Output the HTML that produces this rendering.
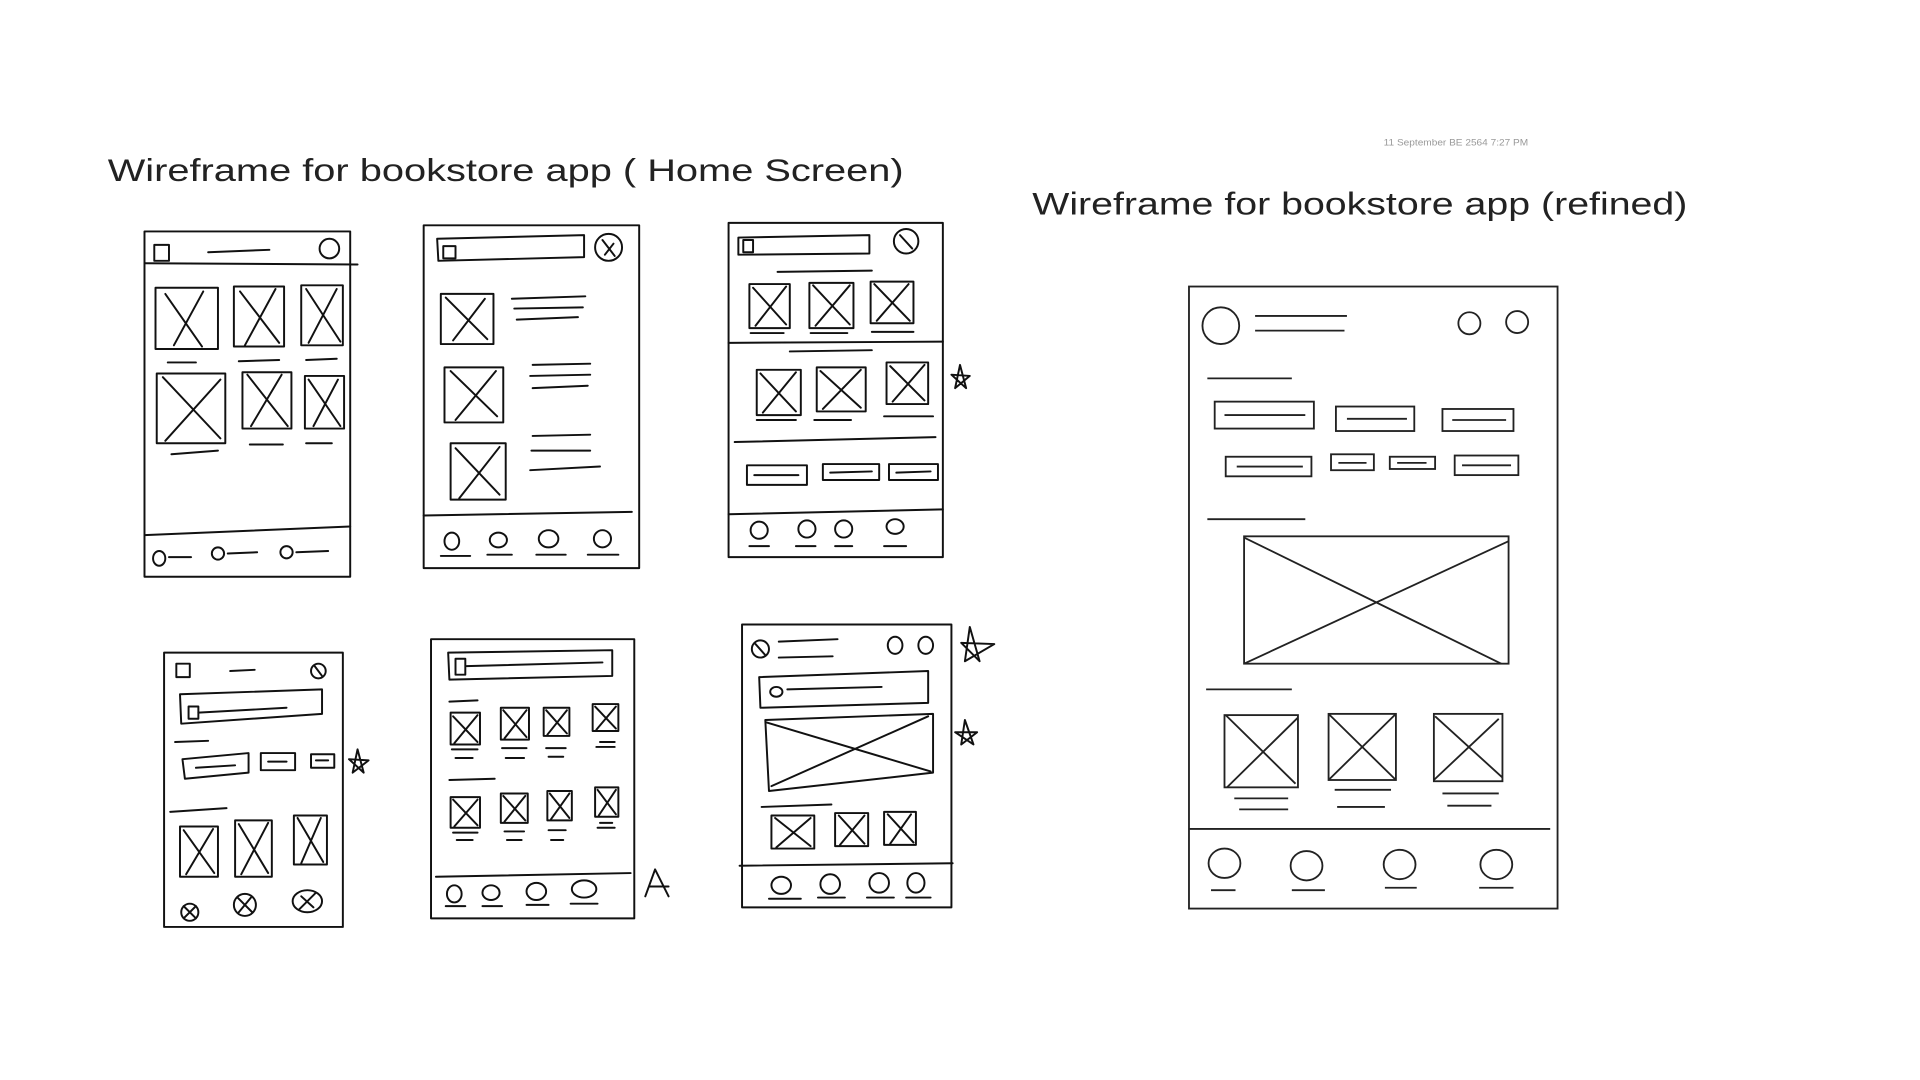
<!DOCTYPE html>
<html><head><meta charset="utf-8"><style>
html,body{margin:0;padding:0;background:#fff;width:1920px;height:1080px;overflow:hidden}
svg{display:block}
</style></head><body>
<svg width="1920" height="1080" viewBox="0 0 1568 882" preserveAspectRatio="none" xmlns="http://www.w3.org/2000/svg">
<g font-family="Liberation Sans, sans-serif" fill="#222">
<text x="88" y="148" font-size="26" textLength="650" lengthAdjust="spacingAndGlyphs">Wireframe  for  bookstore  app ( Home Screen)</text>
<text x="843" y="175" font-size="26" textLength="535" lengthAdjust="spacingAndGlyphs">Wireframe  for  bookstore  app  (refined)</text>
<text x="1130" y="119" font-size="7.5" fill="#999" textLength="118" lengthAdjust="spacingAndGlyphs">11 September BE 2564 7:27 PM</text>
</g>
<g fill="none" stroke="#111" stroke-width="1.6" stroke-linecap="round" stroke-linejoin="round">
<!-- F1 -->
<rect x="118" y="189" width="168" height="282"/>
<line x1="118" y1="215" x2="292" y2="216"/>
<rect x="126" y="200" width="12" height="13"/>
<line x1="170" y1="206" x2="220" y2="204"/>
<circle cx="269" cy="203" r="8"/>
<rect x="127" y="235" width="51" height="50"/><path d="M135 240 L165 283 M166 238 L142 282"/>
<rect x="191" y="234" width="41" height="49"/><path d="M196 238 L228 280 M225 236 L200 282"/>
<rect x="246" y="233" width="34" height="49"/><path d="M250 236 L278 279 M275 236 L252 280"/>
<path d="M137 296 L160 296 M195 295 L228 294 M250 294 L275 293"/>
<rect x="128" y="305" width="56" height="57"/><path d="M133 308 L180 358 M180 310 L135 360"/>
<rect x="198" y="304" width="40" height="46"/><path d="M202 306 L235 348 M230 306 L205 348"/>
<rect x="249" y="307" width="32" height="43"/><path d="M252 310 L278 348 M276 310 L256 348"/>
<path d="M140 371 L178 368 M204 363 L231 363 M250 362 L271 362"/>
<path d="M118 437 L286 430"/>
<ellipse cx="130" cy="456" rx="5" ry="6"/><path d="M138 455 L156 455"/>
<ellipse cx="178" cy="452" rx="5" ry="5"/><path d="M186 452 L210 451"/>
<ellipse cx="234" cy="451" rx="5" ry="5"/><path d="M242 451 L268 450"/>
<!-- F2 -->
<rect x="346" y="184" width="176" height="280"/>
<path d="M357 195 L477 192 L477 210 L358 213 Z"/>
<rect x="362" y="201" width="10" height="10"/>
<circle cx="497" cy="202" r="11"/><path d="M492 196 L502 209 M494 208 L501 199"/>
<rect x="360" y="240" width="43" height="41"/><path d="M364 243 L398 277 M396 244 L370 278"/>
<path d="M418 244 L478 242 M420 252 L476 251 M422 261 L472 259"/>
<rect x="363" y="300" width="48" height="45"/><path d="M368 303 L406 340 M405 303 L372 343"/>
<path d="M435 298 L482 297 M433 307 L482 306 M435 317 L480 315"/>
<rect x="368" y="362" width="45" height="46"/><path d="M372 366 L408 404 M408 365 L375 407"/>
<path d="M435 356 L482 355 M434 368 L482 368 M433 384 L490 381"/>
<path d="M346 421 L516 418"/>
<ellipse cx="369" cy="442" rx="6" ry="7"/><ellipse cx="407" cy="441" rx="7" ry="6"/><ellipse cx="448" cy="440" rx="8" ry="7"/><ellipse cx="492" cy="440" rx="7" ry="7"/>
<path d="M360 454 L384 454 M398 453 L418 453 M438 453 L462 453 M480 453 L505 453"/>
<!-- F3 -->
<rect x="595" y="182" width="175" height="273"/>
<path d="M603 194 L710 192 L710 207 L603 208 Z"/>
<rect x="607" y="196" width="8" height="10"/>
<circle cx="740" cy="197" r="10"/><path d="M735 192 L745 203"/>
<path d="M635 222 L712 221"/>
<rect x="612" y="232" width="33" height="36"/><path d="M615 235 L642 265 M642 234 L617 266"/>
<rect x="661" y="231" width="36" height="37"/><path d="M664 233 L694 265 M694 233 L666 266"/>
<rect x="711" y="230" width="35" height="34"/><path d="M714 232 L743 262 M742 232 L716 262"/>
<path d="M613 272 L640 272 M662 272 L692 272 M712 271 L746 271"/>
<path d="M595 280 L770 279"/>
<path d="M645 287 L712 286"/>
<rect x="618" y="302" width="36" height="37"/><path d="M621 305 L650 336 M650 304 L623 337"/>
<rect x="667" y="300" width="40" height="36"/><path d="M670 303 L703 333 M703 302 L672 334"/>
<rect x="724" y="296" width="34" height="34"/><path d="M727 299 L755 327 M755 298 L729 328"/>
<path d="M618 343 L650 343 M665 343 L695 343 M722 340 L762 340"/>
<path d="M780 317 L784 298 L789 317 L777 306 L792 307 Z"/>
<path d="M600 361 L764 357"/>
<rect x="610" y="380" width="49" height="16"/><path d="M616 388 L652 388"/>
<rect x="672" y="379" width="46" height="13"/><path d="M678 386 L712 385"/>
<rect x="726" y="379" width="40" height="13"/><path d="M732 386 L760 385"/>
<path d="M595 420 L770 416"/>
<ellipse cx="620" cy="433" rx="7" ry="7"/><ellipse cx="659" cy="432" rx="7" ry="7"/><ellipse cx="689" cy="432" rx="7" ry="7"/><ellipse cx="731" cy="430" rx="7" ry="6"/>
<path d="M612 446 L628 446 M650 446 L666 446 M682 446 L696 446 M722 446 L740 446"/>
<!-- F4 -->
<rect x="134" y="533" width="146" height="224"/>
<rect x="144" y="542" width="11" height="11"/>
<path d="M188 548 L208 547"/>
<circle cx="260" cy="548" r="6"/><path d="M257 544 L263 552"/>
<path d="M147 567 L263 563 L263 583 L148 591 Z"/>
<rect x="154" y="577" width="8" height="10"/><path d="M162 582 L234 578"/>
<path d="M143 606 L170 605"/>
<path d="M149 620 L203 615 L203 631 L151 636 Z"/><path d="M160 627 L192 625"/>
<rect x="213" y="615" width="28" height="14"/><path d="M219 622 L234 622"/>
<rect x="254" y="616" width="19" height="11"/><path d="M258 621 L268 621"/>
<path d="M288 631 L292 612 L297 631 L285 620 L301 621 Z"/>
<path d="M139 663 L185 660"/>
<rect x="147" y="675" width="31" height="41"/><path d="M150 678 L175 713 M174 677 L152 714"/>
<rect x="192" y="670" width="30" height="46"/><path d="M195 673 L219 713 M219 672 L197 714"/>
<rect x="240" y="666" width="27" height="40"/><path d="M243 668 L264 704 M262 668 L246 705"/>
<circle cx="155" cy="745" r="7"/><path d="M150 740 L160 750 M160 740 L150 750"/>
<circle cx="200" cy="739" r="9"/><path d="M194 733 L206 745 M205 733 L195 745"/>
<ellipse cx="251" cy="736" rx="12" ry="9"/><path d="M244 743 L258 729 M246 732 L256 741"/>
<!-- F5 -->
<rect x="352" y="522" width="166" height="228"/>
<path d="M366 533 L500 531 L500 552 L367 555 Z"/>
<rect x="372" y="538" width="8" height="13"/><path d="M381 544 L492 541"/>
<path d="M367 573 L390 572"/>
<rect x="368" y="582" width="24" height="26"/><path d="M370 585 L390 606 M390 584 L371 607"/>
<rect x="409" y="578" width="23" height="26"/><path d="M411 580 L430 602 M430 580 L412 603"/>
<rect x="444" y="578" width="21" height="23"/><path d="M446 580 L463 599 M463 580 L447 600"/>
<rect x="484" y="575" width="21" height="22"/><path d="M486 577 L503 595 M503 577 L487 596"/>
<path d="M369 612 L390 612 M410 611 L430 611 M446 611 L462 611 M487 610 L502 610 M372 619 L386 619 M413 619 L428 619 M448 618 L460 618 M490 606 L502 606"/>
<path d="M367 637 L404 636"/>
<rect x="368" y="651" width="24" height="25"/><path d="M370 653 L390 674 M390 653 L371 675"/>
<rect x="409" y="648" width="22" height="24"/><path d="M411 650 L429 670 M429 650 L412 671"/>
<rect x="447" y="646" width="20" height="24"/><path d="M449 648 L465 668 M465 648 L450 669"/>
<rect x="486" y="643" width="19" height="24"/><path d="M488 645 L503 665 M503 645 L489 666"/>
<path d="M370 680 L390 680 M412 679 L428 679 M448 678 L462 678 M488 676 L502 676 M373 686 L386 686 M414 686 L426 686 M450 686 L460 686 M490 672 L500 672"/>
<path d="M356 716 L515 713"/>
<ellipse cx="371" cy="730" rx="6" ry="7"/><ellipse cx="401" cy="729" rx="7" ry="6"/><ellipse cx="438" cy="728" rx="8" ry="7"/><ellipse cx="477" cy="726" rx="10" ry="7"/>
<path d="M364 740 L380 740 M394 740 L410 740 M430 739 L448 739 M466 738 L488 738"/>
<path d="M527 732 L535 710 L546 732 M530 724 L546 724"/>
<!-- F6 -->
<rect x="606" y="510" width="171" height="231"/>
<circle cx="621" cy="530" r="7"/><path d="M617 526 L625 535"/>
<path d="M636 524 L684 522 M636 537 L680 536"/>
<ellipse cx="731" cy="527" rx="6" ry="7"/><ellipse cx="756" cy="527" rx="6" ry="7"/>
<path d="M788 540 L792 512 L800 540 L785 525 L812 526 Z"/>
<path d="M620 553 L758 548 L758 574 L621 578 Z"/>
<ellipse cx="634" cy="565" rx="5" ry="4"/><path d="M643 563 L720 561"/>
<path d="M625 588 L762 583 L762 631 L628 646 Z"/><path d="M626 590 L760 630 M758 585 L630 642"/>
<path d="M785 608 L788 588 L795 608 L780 598 L798 598 Z"/>
<path d="M622 659 L679 657"/>
<rect x="630" y="666" width="35" height="27"/><path d="M633 668 L662 691 M662 668 L634 692"/>
<rect x="682" y="664" width="27" height="27"/><path d="M685 666 L706 689 M706 666 L686 690"/>
<rect x="722" y="663" width="26" height="27"/><path d="M725 665 L746 688 M744 665 L727 689"/>
<path d="M604 707 L778 705"/>
<ellipse cx="638" cy="723" rx="8" ry="7"/><ellipse cx="678" cy="722" rx="8" ry="8"/><ellipse cx="718" cy="721" rx="8" ry="8"/><ellipse cx="748" cy="721" rx="7" ry="8"/>
<path d="M628 734 L654 734 M668 733 L690 733 M708 733 L730 733 M740 733 L760 733"/>
</g>
<!-- Refined -->
<g fill="none" stroke="#222" stroke-width="1.5">
<rect x="971" y="234" width="301" height="508"/>
<circle cx="997" cy="266" r="15"/>
<path d="M1025 258 L1100 258 M1025 270 L1098 270"/>
<circle cx="1200" cy="264" r="9"/><circle cx="1239" cy="263" r="9"/>
<path d="M986 309 L1055 309"/>
<rect x="992" y="328" width="81" height="22"/><path d="M1000 339 L1066 339"/>
<rect x="1091" y="332" width="64" height="20"/><path d="M1100 342 L1149 342"/>
<rect x="1178" y="334" width="58" height="18"/><path d="M1186 343 L1230 343"/>
<rect x="1001" y="373" width="70" height="16"/><path d="M1010 381 L1064 381"/>
<rect x="1087" y="371" width="35" height="13"/><path d="M1093 378 L1116 378"/>
<rect x="1135" y="373" width="37" height="10"/><path d="M1141 378 L1165 378"/>
<rect x="1188" y="372" width="52" height="16"/><path d="M1194 380 L1234 380"/>
<path d="M986 424 L1066 424"/>
<rect x="1016" y="438" width="216" height="104"/><path d="M1016 439 L1226 542 M1016 542 L1232 442"/>
<path d="M985 563 L1055 563"/>
<rect x="1000" y="584" width="60" height="59"/><path d="M1001 584 L1058 640 M1002 643 L1060 586"/>
<rect x="1085" y="583" width="55" height="54"/><path d="M1085 583 L1140 637 M1085 637 L1140 583"/>
<rect x="1171" y="583" width="56" height="55"/><path d="M1172 585 L1227 635 M1171 637 L1224 587"/>
<path d="M1008 652 L1052 652 M1012 661 L1052 661 M1090 645 L1136 645 M1092 659 L1131 659 M1178 648 L1224 648 M1182 658 L1218 658"/>
<path d="M971 677 L1266 677"/>
<ellipse cx="1000" cy="705" rx="13" ry="12"/><ellipse cx="1067" cy="707" rx="13" ry="12"/><ellipse cx="1143" cy="706" rx="13" ry="12"/><ellipse cx="1222" cy="706" rx="13" ry="12"/>
<path d="M989 727 L1009 727 M1055 727 L1082 727 M1131 725 L1157 725 M1208 725 L1236 725"/>
</g>
</svg>
</body></html>
